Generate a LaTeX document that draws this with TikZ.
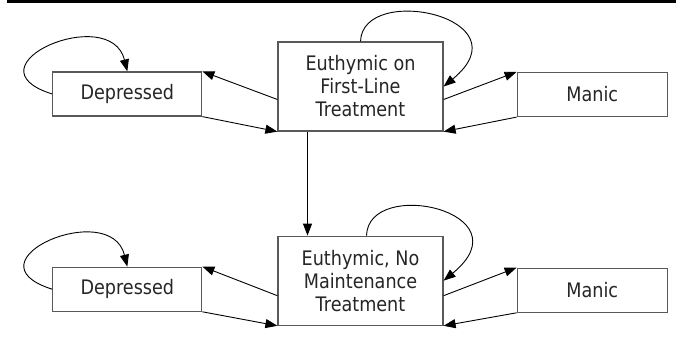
\documentclass[tikz,border=0pt]{standalone}
\usepackage{fontspec}
\setmainfont{DejaVu Sans}[FakeStretch=0.88]
\usepackage{tikz}
\usetikzlibrary{positioning}
\usetikzlibrary{arrows.meta}

\tikzstyle{statebox} = [
	draw=black!65,
	line width=1.2pt,
	fill=white,
	align=center,
	inner sep=0pt,
	text=black!85,
	font=\fontsize{20}{23}\selectfont
]
\tikzstyle{moodbox} = [
	statebox,
	minimum width=149pt,
	minimum height=44pt
]
\tikzstyle{euthbox} = [
	statebox,
	minimum width=165pt,
	minimum height=89pt
]
\tikzstyle{trans} = [
	-{Triangle[length=12pt,width=9pt]},
	line width=0.9pt
]

\begin{document}
\begin{tikzpicture}[x=1pt, y=1pt, node distance=75pt]
	\useasboundingbox (0,0) rectangle (676,338);
	\fill (7,335) rectangle (676,338);

	% Top row
	\node[euthbox] (eu1) at (360.5,251.5) {Euthymic on\\First-Line\\Treatment};
	\node[moodbox, left=of eu1, yshift=-7.5pt] (dep1) {Depressed};
	\node[moodbox, right=73pt of eu1, yshift=-8pt, minimum width=150pt] (man1) {Manic};

	\draw[trans] (dep1.west) .. controls +(-89,28) and +(-17,69) .. (dep1.north);
	\draw[trans] (eu1.north) .. controls +(2,59) and +(84,69) .. (eu1.east);
	\draw[trans] ([yshift=-13pt]eu1.west) -- (dep1.north east);
	\draw[trans] (dep1.south east) -- (eu1.south west);
	\draw[trans] ([yshift=-13pt]eu1.east) -- (man1.north west);
	\draw[trans] (man1.south west) -- (eu1.south east);

	% Bottom row
	\node[euthbox, below=104pt of eu1] (eu2) {Euthymic, No\\Maintenance\\Treatment};
	\node[moodbox, left=of eu2, yshift=-8.5pt] (dep2) {Depressed};
	\node[moodbox, right=73pt of eu2, yshift=-9.5pt, minimum width=150pt] (man2) {Manic};

	\draw[trans] (dep2.west) .. controls +(-89,28) and +(-17,69) .. (dep2.north);
	\draw[trans] ([xshift=6pt]eu2.north) .. controls +(2,59) and +(84,69) .. (eu2.east);
	\draw[trans] ([yshift=-15pt]eu2.west) -- (dep2.north east);
	\draw[trans] (dep2.south east) -- (eu2.south west);
	\draw[trans] ([yshift=-15pt]eu2.east) -- (man2.north west);
	\draw[trans] (man2.south west) -- (eu2.south east);

	% Between rows
	\draw[trans] ([xshift=-53pt]eu1.south) -- ([xshift=-53pt]eu2.north);
\end{tikzpicture}
\end{document}
